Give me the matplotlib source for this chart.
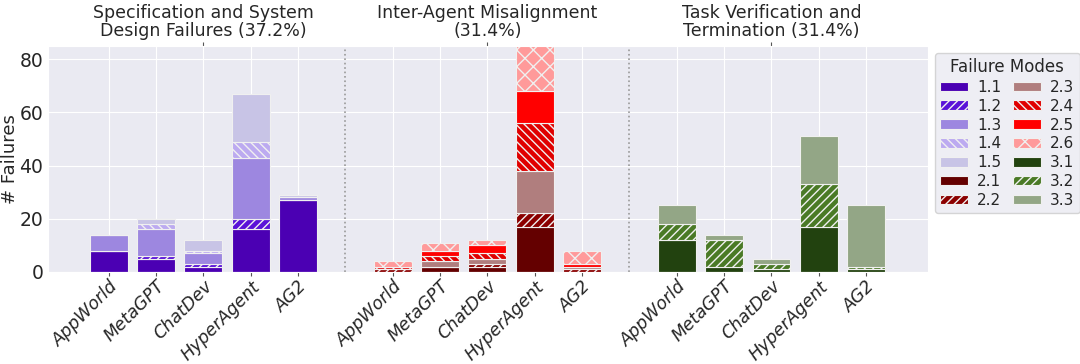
import numpy as np
import matplotlib
matplotlib.use('Agg')
from matplotlib import pyplot as plt
import seaborn as sns

# Системы (ось X внутри каждой группы)
systems = ['AppWorld', 'MetaGPT', 'ChatDev', 'HyperAgent', 'AG2']

# Категории отказов (группы)
group_titles = ['Specification and System\nDesign Failures (37.2%)',
                'Inter-Agent Misalignment\n(31.4%)',
                'Task Verification and\nTermination (31.4%)']

# Значения по режимам отказов: порядок систем как в systems
mode_1_1 = [8, 5, 2, 16, 27]
mode_1_2 = [0, 1, 1, 4, 0]
mode_1_3 = [6, 10, 4, 23, 1]
mode_1_4 = [0, 2, 1, 6, 0]
mode_1_5 = [0, 2, 4, 18, 1]

mode_2_1 = [0, 2, 2, 17, 0]
mode_2_2 = [1, 0, 1, 5, 1]
mode_2_3 = [0, 2, 2, 16, 1]
mode_2_4 = [1, 2, 2, 18, 0]
mode_2_5 = [0, 2, 3, 12, 1]
mode_2_6 = [2, 3, 2, 20, 5]

mode_3_1 = [12, 2, 1, 17, 1]
mode_3_2 = [6, 10, 2, 16, 1]
mode_3_3 = [7, 2, 2, 18, 23]

groups = [
    [('1.1', mode_1_1, '#4b00b3', ''), ('1.2', mode_1_2, '#5a12d8', '////'),
     ('1.3', mode_1_3, '#9d87e0', ''), ('1.4', mode_1_4, '#bcaaf0', '\\\\\\\\'),
     ('1.5', mode_1_5, '#c8c4e6', '')],
    [('2.1', mode_2_1, '#640000', ''), ('2.2', mode_2_2, '#8b0000', '////'),
     ('2.3', mode_2_3, '#b07e7e', ''), ('2.4', mode_2_4, '#e00000', '\\\\\\\\'),
     ('2.5', mode_2_5, '#ff0000', ''), ('2.6', mode_2_6, '#ff9a9a', 'xx')],
    [('3.1', mode_3_1, '#22420f', ''), ('3.2', mode_3_2, '#4a7a26', '////'),
     ('3.3', mode_3_3, '#93a686', '')],
]

sns.set_style('darkgrid')
plt.rcParams['font.family'] = ['DejaVu Sans']
plt.rcParams['hatch.linewidth'] = 1.0

fig = plt.figure(figsize=(10.8, 3.64), dpi=100)
ax = fig.add_axes([0.0445, 0.253, 0.8145, 0.621])

n = len(systems)
positions = []
for g, modes in enumerate(groups):
    x = np.arange(n) + g * (n + 1)
    positions.extend(x)
    bottom = np.zeros(n)
    for name, vals, color, hatch in modes:
        ax.bar(x, vals, width=0.8, bottom=bottom, color=color, hatch=hatch,
               edgecolor='#f0f0f0', linewidth=0.8, label=name)
        bottom += np.array(vals)

# Разделители между группами
for sep in [n, 2 * n + 1]:
    ax.axvline(sep, color='#999999', ls=':', lw=1.2)

ax.set_xlim(-1.28, 17.3)
ax.set_ylim(0, 85)
ax.set_xticks(positions)
ax.set_xticklabels(systems * 3, rotation=45, ha='right', rotation_mode='anchor',
                   fontsize=12.5, style='italic')
ax.tick_params(axis='x', bottom=True, length=3, color='#555555', pad=1)
ax.tick_params(axis='y', labelsize=13.5, pad=0)
ax.set_yticks([0, 20, 40, 60, 80])
ax.set_ylabel('# Failures', fontsize=13, labelpad=0)

# Заголовки групп сверху
top = ax.secondary_xaxis('top')
top.set_xticks([2, 2 + n + 1, 2 + 2 * (n + 1)])
top.set_xticklabels(group_titles, fontsize=12.5, linespacing=1.05)
top.tick_params(axis='x', top=True, length=3, color='#555555', pad=1)
for s in top.spines.values():
    s.set_visible(False)

leg = ax.legend(title='Failure Modes', ncol=2, loc='upper left',
                bbox_to_anchor=(1.003, 0.99), fontsize=11, title_fontsize=12,
                handlelength=1.8, handleheight=0.6, columnspacing=0.8,
                handletextpad=0.6, borderaxespad=0.3, labelspacing=0.25,
                borderpad=0.35)
leg.get_frame().set_facecolor('#eaeaf2')
leg.get_frame().set_edgecolor('#cccccc')

plt.savefig('out.png', dpi=100)
